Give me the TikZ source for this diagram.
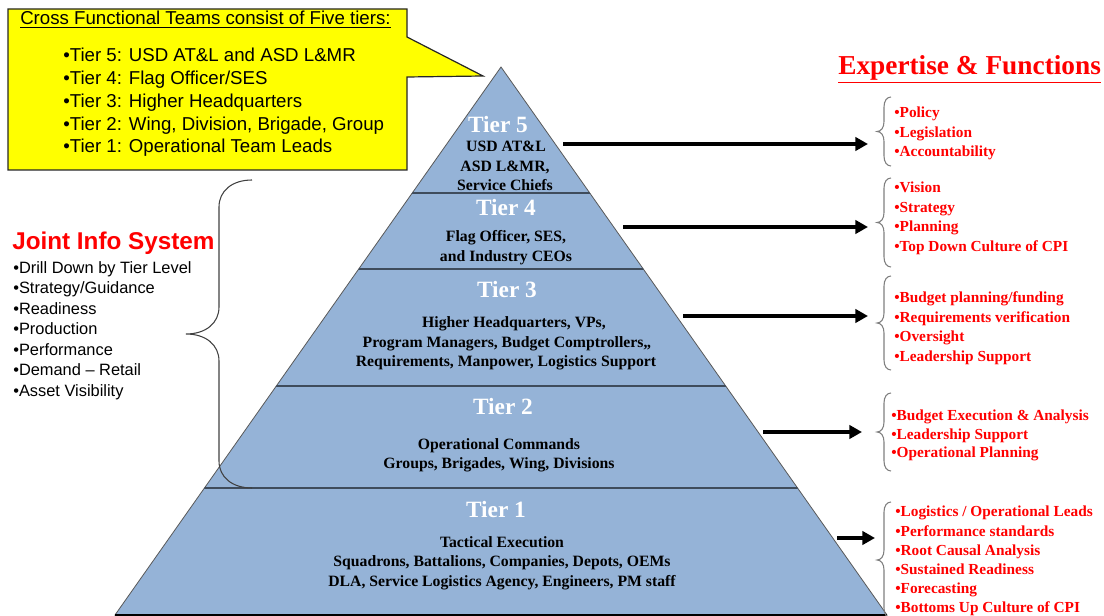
\documentclass[tikz,border=0pt]{standalone}
\usepackage{fontspec}
\setmainfont{Liberation Serif}
\newfontfamily\arial{Liberation Sans}
\usetikzlibrary{arrows.meta}
\definecolor{pyr}{HTML}{95B3D7}
\definecolor{tierline}{HTML}{3F4C5C}
\definecolor{callout}{HTML}{FFFF00}
\definecolor{redtxt}{HTML}{FF0000}
\definecolor{bracegray}{HTML}{7F7F7F}
\tikzset{
  ttl/.style={text=white, font=\fontsize{17.5}{20}\selectfont\bfseries, anchor=base, inner sep=0pt},
  pbody/.style={font=\fontsize{11.8}{14}\selectfont\bfseries, anchor=base, inner sep=0pt},
  redi/.style={text=redtxt, font=\fontsize{11.5}{14}\selectfont\bfseries, anchor=base west, inner sep=0pt},
  cal/.style={font=\arial\fontsize{14}{17}\selectfont, anchor=base west, inner sep=0pt},
  joint/.style={font=\arial\fontsize{12.3}{15}\selectfont, anchor=base west, inner sep=0pt},
  arr/.style={line width=2.6pt, -{Triangle[length=9.5pt,width=10pt]}},
  bracestyle/.style={draw=bracegray, line width=0.8pt},
  pics/rbr/.style n args={3}{code={
    \draw[bracestyle] (0,0) .. controls ({-0.6*#2},0) and ({-#2},{0.4*#3}) .. ({-#2},#3)
      -- ({-#2},{#1/2-#3}) .. controls ({-#2},{#1/2-0.4*#3}) and ({-1.4*#2},{#1/2}) .. ({-2*#2},{#1/2})
      .. controls ({-1.4*#2},{#1/2}) and ({-#2},{#1/2+0.4*#3}) .. ({-#2},{#1/2+#3})
      -- ({-#2},{#1-#3}) .. controls ({-#2},{#1-0.4*#3}) and ({-0.6*#2},#1) .. (0,#1);
  }}
}
\begin{document}
\begin{tikzpicture}[x=0.75pt,y=-0.75pt]
\useasboundingbox (0,0) rectangle (1104,616);

% callout
\draw[fill=callout, draw=black!85, line width=0.9pt]
  (8,9) -- (407,9) -- (407,37) -- (483,76) -- (407,77) -- (407,170) -- (8,170) -- cycle;
\node[cal] (ctitle) at (20,25) {\underline{Cross Functional Teams consist of Five tiers:}};
\node[cal] (c5) at (63,62) {•Tier 5: USD AT\&L and ASD L\&MR};
\node[cal] (c4) at (63,84.5) {•Tier 4: Flag Officer/SES};
\node[cal] (c3) at (63,107.5) {•Tier 3: Higher Headquarters};
\node[cal] (c2) at (63,130.5) {•Tier 2: Wing, Division, Brigade, Group};
\node[cal] (c1) at (63,153) {•Tier 1: Operational Team Leads};

% pyramid
\draw[fill=pyr, draw=black!65, line width=0.6pt] (501,67) -- (887,615) -- (115,615) -- cycle;
\draw[black, line width=1.4pt] (115,615) -- (887,615);
\begin{scope}
  \clip (501,67) -- (887,615) -- (115,615) -- cycle;
  \draw[tierline, line width=1.1pt] (0,193) -- (1104,193) (0,269) -- (1104,269)
        (0,386) -- (1104,386) (0,488) -- (1104,488);
\end{scope}

% pyramid texts
\node[ttl] (t5) at (498,133) {Tier 5};
\node[pbody] (t5a) at (506,152) {USD AT\&L};
\node[pbody] (t5b) at (505,172) {ASD L\&MR,};
\node[pbody] (t5c) at (505,191) {Service Chiefs};

\node[ttl] (t4) at (506,216) {Tier 4};
\node[pbody] (t4a) at (506,242) {Flag Officer, SES,};
\node[pbody] (t4b) at (506,262) {and Industry CEOs};

\node[ttl] (t3) at (507,298) {Tier 3};
\node[pbody] (t3a) at (514,328) {Higher Headquarters, VPs,};
\node[pbody] (t3b) at (507,348) {Program Managers, Budget Comptrollers,,};
\node[pbody] (t3c) at (506,367) {Requirements, Manpower, Logistics Support};

\node[ttl] (t2) at (503,415) {Tier 2};
\node[pbody] (t2a) at (499,450) {Operational Commands};
\node[pbody] (t2b) at (499,469) {Groups, Brigades, Wing, Divisions};

\node[ttl] (t1) at (496,518) {Tier 1};
\node[pbody] (t1a) at (502,548) {Tactical Execution};
\node[pbody] (t1b) at (502,567) {Squadrons, Battalions, Companies, Depots, OEMs};
\node[pbody] (t1c) at (502,586) {DLA, Service Logistics Agency, Engineers, PM staff};

% left brace and Joint Info System
\begin{scope}[bracestyle/.style={draw=black!75, line width=0.8pt}]
\pic at (252,180) {rbr={308}{33}{27}};
\end{scope}
\node[anchor=base west, inner sep=0pt, text=redtxt, font=\arial\fontsize{18.2}{22}\selectfont\bfseries] (jtitle) at (12,250) {Joint Info System};
\node[joint] (j1) at (13,274) {•Drill Down by Tier Level};
\node[joint] (j2) at (13,294) {•Strategy/Guidance};
\node[joint] (j3) at (13,314.5) {•Readiness};
\node[joint] (j4) at (13,335) {•Production};
\node[joint] (j5) at (13,355.5) {•Performance};
\node[joint] (j6) at (13,376) {•Demand – Retail};
\node[joint] (j7) at (13,396.5) {•Asset Visibility};

% heading
\node[anchor=base west, inner sep=0pt, text=redtxt, font=\fontsize{20.5}{24}\selectfont\bfseries] (head) at (838,75) {\underline{Expertise \& Functions}};

% arrows
\coordinate (a5s) at (563,144); \coordinate (a5e) at (868,144);
\coordinate (a4s) at (623,227); \coordinate (a4e) at (868,227);
\coordinate (a3s) at (683,316); \coordinate (a3e) at (868,316);
\coordinate (a2s) at (763,432); \coordinate (a2e) at (862,432);
\coordinate (a1s) at (837,538); \coordinate (a1e) at (875,538);
\draw[arr] (a5s) -- (a5e);
\draw[arr] (a4s) -- (a4e);
\draw[arr] (a3s) -- (a3e);
\draw[arr] (a2s) -- (a2e);
\draw[arr] (a1s) -- (a1e);

% right braces
\pic at (891,97) {rbr={69}{7}{10}};
\pic at (891,178) {rbr={89}{7}{10}};
\pic at (891,276) {rbr={94}{7}{10}};
\pic at (891,393) {rbr={78}{7}{10}};
\pic at (891,502) {rbr={116}{7}{10}};

% group 1
\node[redi] (g1a) at (894,118) {•Policy};
\node[redi] (g1b) at (894,137.5) {•Legislation};
\node[redi] (g1c) at (894,156.5) {•Accountability};
% group 2
\node[redi] (g2a) at (894,193) {•Vision};
\node[redi] (g2b) at (894,213) {•Strategy};
\node[redi] (g2c) at (894,232) {•Planning};
\node[redi] (g2d) at (894,252) {•Top Down Culture of CPI};
% group 3
\node[redi] (g3a) at (894,303) {•Budget planning/funding};
\node[redi] (g3b) at (894,323) {•Requirements verification};
\node[redi] (g3c) at (894,342) {•Oversight};
\node[redi] (g3d) at (894,362) {•Leadership Support};
% group 4
\node[redi] (g4a) at (891,420.5) {•Budget Execution \& Analysis};
\node[redi] (g4b) at (891,439.5) {•Leadership Support};
\node[redi] (g4c) at (891,458) {•Operational Planning};
% group 5
\node[redi] (g5a) at (895,517) {•Logistics / Operational Leads};
\node[redi] (g5b) at (895,536.5) {•Performance standards};
\node[redi] (g5c) at (895,555.5) {•Root Causal Analysis};
\node[redi] (g5d) at (895,575) {•Sustained Readiness};
\node[redi] (g5e) at (895,593.5) {•Forecasting};
\node[redi] (g5f) at (895,613) {•Bottoms Up Culture of CPI};
\end{tikzpicture}
\end{document}
